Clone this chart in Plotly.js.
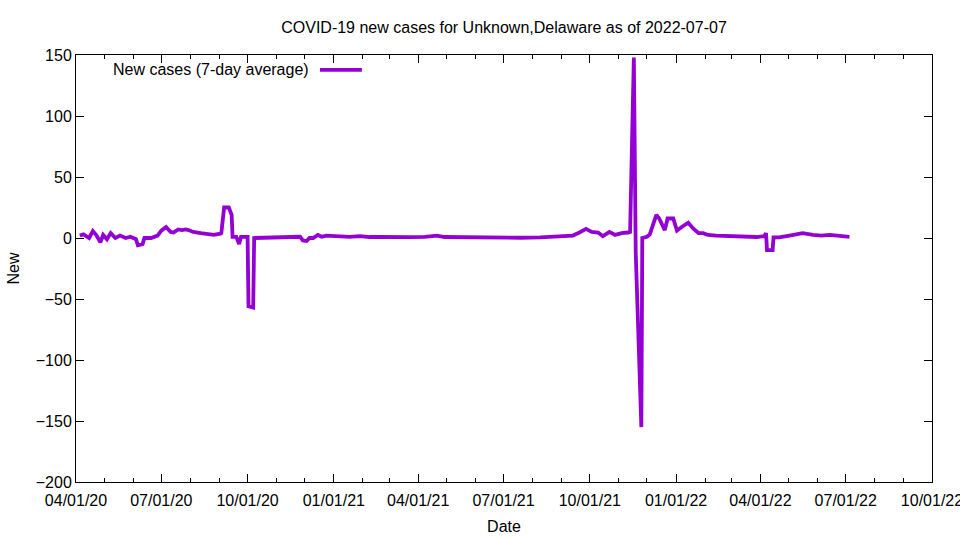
<!DOCTYPE html>
<html>
<head>
<meta charset="utf-8">
<script src="https://cdn.plot.ly/plotly-3.0.1.min.js"></script>
<style>html,body{margin:0;padding:0;background:#fff;}#chart{width:960px;height:540px;}</style>
</head>
<body>
<div id="chart"></div>
<script>
const dates = [
  "2020-04-05","2020-04-09","2020-04-15","2020-04-19","2020-04-23","2020-04-27","2020-04-30","2020-05-04","2020-05-08",
  "2020-05-13","2020-05-18","2020-05-24","2020-05-29","2020-06-04","2020-06-06","2020-06-11","2020-06-13",
  "2020-06-20","2020-06-27","2020-07-01","2020-07-06","2020-07-11","2020-07-14","2020-07-19","2020-07-23",
  "2020-07-27","2020-07-30","2020-08-04","2020-08-12","2020-08-19","2020-08-26","2020-09-02","2020-09-03",
  "2020-09-06","2020-09-11","2020-09-14","2020-09-15","2020-09-19","2020-09-22","2020-09-24","2020-09-28",
  "2020-10-01","2020-10-02","2020-10-07","2020-10-08","2020-10-25","2020-11-10","2020-11-22","2020-11-26",
  "2020-11-29","2020-12-03","2020-12-06","2020-12-10","2020-12-15","2020-12-19","2020-12-24",
  "2021-01-07","2021-01-18","2021-01-29","2021-02-08","2021-02-19","2021-03-07","2021-03-23","2021-04-08",
  "2021-04-21","2021-04-29","2021-05-15","2021-06-06","2021-06-27","2021-07-19","2021-08-09","2021-08-25",
  "2021-09-04","2021-09-13","2021-09-20","2021-09-27","2021-10-03","2021-10-10","2021-10-15","2021-10-22",
  "2021-10-28","2021-11-04","2021-11-11","2021-11-13","2021-11-17","2021-11-19","2021-11-25","2021-11-26",
  "2021-12-01","2021-12-04","2021-12-11","2021-12-14","2021-12-20","2021-12-23","2021-12-29",
  "2022-01-02","2022-01-07","2022-01-14","2022-01-19","2022-01-25","2022-01-30","2022-02-04","2022-02-13",
  "2022-02-27","2022-03-15","2022-03-28","2022-04-05","2022-04-07","2022-04-08","2022-04-14","2022-04-15",
  "2022-04-21","2022-05-02","2022-05-16","2022-05-27","2022-06-05","2022-06-14","2022-06-24","2022-07-05"
];
const newCases = [
  2, 3, 0, 5.7, 2, -3.5, 2.5, -1, 4,
  0, 2, 0, 1, -1, -6, -5, 0,
  0, 2, 6, 9, 5, 4.5, 7, 6.5,
  7, 6.5, 5, 4, 3, 2.5, 3.5, 4,
  25, 25, 19, 1, 1, -5, 1, 1,
  1, -56, -57, 0, 0.3, 0.7, 1, 1,
  -2, -2.5, 0, 0, 2.5, 1, 2,
  1.5, 1, 1.5, 0.8, 1, 0.5, 0.7, 1,
  2, 0.8, 0.6, 0.3, 0.2, 0.2, 0.5, 1,
  1, 2, 4.5, 7.5, 5, 4.5, 1.5, 5,
  2.5, 4, 4.5, 5, 148, -12, -155, 0,
  1, 3, 19, 16, 6.5, 16, 16,
  6, 9, 12.5, 8, 4, 4, 2.5, 2,
  1.5, 0.8, 0.8, 1.5, 4, -10, -10, 0.5,
  0.5, 2, 4, 2.5, 2, 2.5, 2, 1
];
const tickDates = ["2020-04-01","2020-07-01","2020-10-01","2021-01-01","2021-04-01","2021-07-01",
  "2021-10-01","2022-01-01","2022-04-01","2022-07-01","2022-10-01"];
const tickLabels = ["04/01/20","07/01/20","10/01/20","01/01/21","04/01/21","07/01/21",
  "10/01/21","01/01/22","04/01/22","07/01/22","10/01/22"];
const yTicks = [-200,-150,-100,-50,0,50,100,150];
const seriesName = "New cases (7-day average)";
const titleText = "COVID-19 new cases for Unknown,Delaware as of 2022-07-07";

const lineColor = "#9400d3";
const font = {family: "Liberation Sans, Arial, sans-serif", size: 16, color: "#000"};

const trace = {
  x: dates, y: newCases, type: "scatter", mode: "lines", name: seriesName,
  line: {color: lineColor, width: 3.8}, showlegend: false
};

const layout = {
  width: 960, height: 540,
  margin: {l: 76, r: 28, t: 55, b: 58},
  paper_bgcolor: "#fff", plot_bgcolor: "#fff",
  font: font,
  title: {text: titleText, font: font, x: 0.525, xanchor: "center", y: 0.95, yanchor: "middle"},
  xaxis: {
    type: "date", range: ["2020-04-01", "2022-10-01"],
    tickmode: "array", tickvals: tickDates, ticktext: tickLabels,
    ticks: "inside", ticklen: 8, tickwidth: 1, tickcolor: "#000",
    showline: true, linecolor: "#000", linewidth: 1, mirror: "ticks",
    showgrid: false, zeroline: false,
    tickfont: font, ticklabelstandoff: 4, ticklabeloverflow: "allow",
    minor: {dtick: "M1", tick0: "2020-04-01", ticks: "inside", ticklen: 4, tickcolor: "#000", showgrid: false},
    title: {text: "Date", font: font, standoff: 12}
  },
  yaxis: {
    range: [-200, 150], tickmode: "array", tickvals: yTicks,
    ticks: "inside", ticklen: 8, tickwidth: 1, tickcolor: "#000",
    showline: true, linecolor: "#000", linewidth: 1, mirror: "ticks",
    showgrid: false, zeroline: false,
    tickfont: font,
    title: {text: "New", font: font, standoff: 12}
  },
  annotations: [{
    xref: "paper", yref: "paper", x: 0.2745, y: 0.965, xanchor: "right", yanchor: "middle",
    text: seriesName, showarrow: false, font: font
  }],
  shapes: [{
    type: "line", xref: "paper", yref: "paper", x0: 0.285, x1: 0.334, y0: 0.965, y1: 0.965,
    line: {color: lineColor, width: 3.8}
  }]
};

Plotly.newPlot("chart", [trace], layout, {displayModeBar: false, staticPlot: true});
</script>
</body>
</html>
